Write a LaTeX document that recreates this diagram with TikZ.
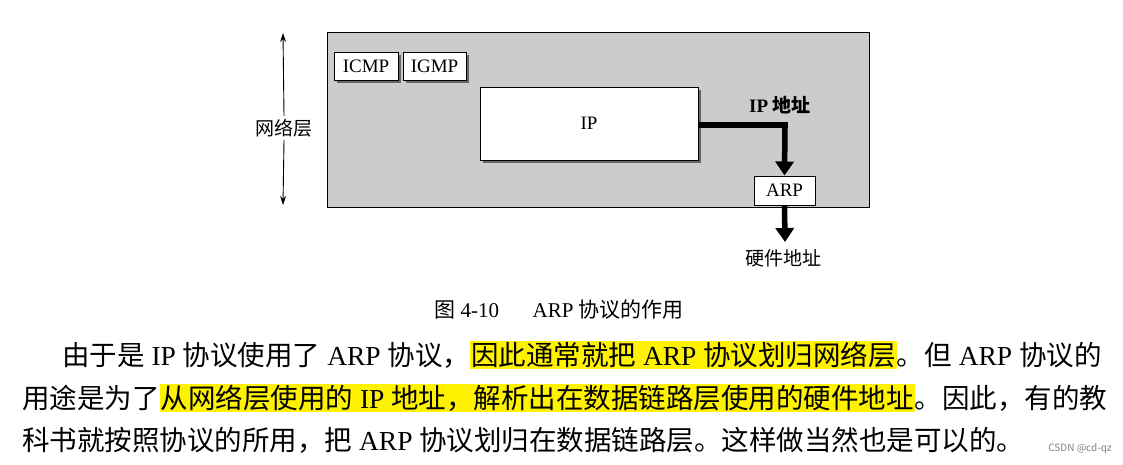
\documentclass[tikz,border=0pt]{standalone}
\usepackage{fontspec}
\setmainfont{Liberation Serif}
\newfontfamily\cjk{Noto Sans CJK SC}
\newcommand{\zh}[1]{{\cjk #1}}
\newcommand{\hl}[1]{{\setlength{\fboxsep}{1pt}\colorbox{yellow}{#1}}}
\begin{document}
\begin{tikzpicture}[x=1pt,y=-1pt,
  box/.style={draw=black,fill=white,line width=1pt,inner sep=0pt,font=\fontsize{19}{19}\selectfont},
  thick arrow/.style={line width=5.5pt,-{Triangle[length=14pt,width=18pt]}},
  body/.style={anchor=west,inner sep=0pt,font=\fontsize{27.5}{27.5}\selectfont}]
\usetikzlibrary{arrows.meta}
\useasboundingbox (0,0) rectangle (1123,464);
\fill[white] (0,0) rectangle (1123,464);
\fill[gray!40,draw=black,line width=1pt] (327,32) rectangle (869,207);
\node[font=\fontsize{19}{19}\selectfont\cjk,fill=white,inner sep=3pt] (nl) at (284,128) {网络层};
\coordinate (ttop) at (283,33);
\coordinate (tbot) at (283,205);
\draw[line width=0.9pt,-{Stealth[length=9pt,width=6pt]}] (nl.north) -- (ttop);
\draw[line width=0.9pt,-{Stealth[length=9pt,width=6pt]}] (nl.south) -- (tbot);
\fill[black!60] (337,55) rectangle (401,83);
\node[box,minimum width=64pt,minimum height=28pt] (icmp) at (366,66) {ICMP};
\fill[black!60] (406,55) rectangle (469,83);
\node[box,minimum width=63pt,minimum height=28pt] (igmp) at (434.5,66) {IGMP};
\fill[black!60] (483,90) rectangle (701,163);
\node[box,minimum width=218pt,minimum height=73pt] (ip) at (589,123.5) {IP};
\node[box,minimum width=61pt,minimum height=29pt] (arp) at (784.5,190.5) {ARP};
\coordinate (bend) at (785,125);
\draw[line width=5.5pt] (ip.east |- bend) -- ([xshift=2.75pt]bend);
\draw[thick arrow] (bend) -- (arp.north);
\coordinate (hw) at (785,242);
\draw[thick arrow] (arp.south) -- (hw);
\node[font=\fontsize{19}{19}\selectfont\bfseries] (ipa) at (780,105) {IP \zh{地址}};
\node[font=\fontsize{19}{19}\selectfont\cjk] (hwl) at (783,258) {硬件地址};
\node[font=\fontsize{21}{21}\selectfont] (cap) at (559,310) {\zh{图} 4-10\hspace{1.6em}ARP \zh{协议的作用}};
\node[body] (l1) at (62,355) {\zh{由于是} IP \zh{协议使用了} ARP \zh{协议，}\hl{\zh{因此通常就把} ARP \zh{协议划归网络层}}\zh{。但} ARP \zh{协议的}};
\node[body] (l2) at (22,398) {\zh{用途是为了}\hl{\zh{从网络层使用的} IP \zh{地址，解析出在数据链路层使用的硬件地址}}\zh{。因此，有的教}};
\node[body] (l3) at (22,440) {\zh{科书就按照协议的所用，把} ARP \zh{协议划归在数据链路层。这样做当然也是可以的。}};
\node[font=\fontsize{10}{10}\selectfont\cjk,text=gray] (wm) at (1080,449) {CSDN @cd-qz};
\end{tikzpicture}
\end{document}
